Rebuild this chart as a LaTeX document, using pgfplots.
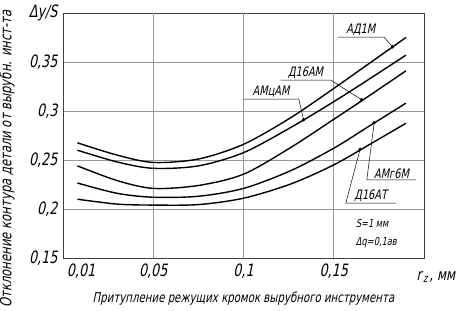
\documentclass[border=0pt]{standalone}
\usepackage{pgfplots}
\pgfplotsset{compat=1.18}
\usepackage{fontspec}
\setmainfont{DejaVu Sans}[FakeSlant=0.2,FakeStretch=0.75]
\pgfplotstableread{
x      a      b      c      d      e
0.008  0.2675 0.260  0.244  0.2265 0.210
0.03   0.255  0.248  0.229  0.216  0.205
0.05   0.2475 0.2415 0.221  0.212  0.204
0.075  0.251  0.244  0.224  0.213  0.2045
0.1    0.266  0.2575 0.2355 0.221  0.211
0.126  0.293  0.283  0.2626 0.239  0.2254
0.15   0.323  0.3095 0.2915 0.262  0.245
0.17   0.349  0.333  0.316  0.285  0.266
0.19   0.375  0.357  0.341  0.308  0.2875
}\data
\begin{document}
\begin{tikzpicture}
\begin{axis}[
  scale only axis, width=361pt, height=245pt,
  xmin=0, xmax=0.2, ymin=0.15, ymax=0.4,
  xtick={0.01,0.05,0.1,0.15}, xticklabels={{0,01},{0,05},{0,1},{0,15}},
  extra x ticks={0.05,0.1,0.15}, extra x tick labels={},
  extra x tick style={xmajorgrids=true},
  ytick={0.15,0.2,0.25,0.3,0.35,0.4},
  yticklabels={{0,15},{0,2},{0,25},{0,3},{0,35},{Δy/S}},
  major tick length=0pt,
  xmajorgrids=false, ymajorgrids=true,
  major grid style={gray!80, line width=0.6pt},
  axis line style={black!75, line width=0.8pt},
  ticklabel style={font=\fontsize{17}{17}\selectfont},
  yticklabel style={xshift=-2pt},
  xticklabel style={yshift=-2pt},
  /pgf/number format/assume math mode=true,
  xlabel={Притупление режущих кромок вырубного инструмента},
  xlabel style={font=\fontsize{13.6}{13.6}\selectfont, yshift=-7pt},
  clip=false,
]
\addplot[black, line width=1.4pt, smooth] table[x=x,y=a]{\data};
\addplot[black, line width=1.4pt, smooth] table[x=x,y=b]{\data};
\addplot[black, line width=1.4pt, smooth] table[x=x,y=c]{\data};
\addplot[black, line width=1.4pt, smooth] table[x=x,y=d]{\data};
\addplot[black, line width=1.4pt, smooth] table[x=x,y=e]{\data};
% dots
\addplot[only marks, mark=*, mark size=1.5pt, black] coordinates {
 (0.1826,0.3655) (0.1654,0.3115) (0.1333,0.291) (0.1724,0.288) (0.1646,0.261)};
% leaders
\draw[black, line width=0.5pt] (axis cs:0.1522,0.3755) -- (axis cs:0.1778,0.3755) -- (axis cs:0.1826,0.3655);
\draw[black, line width=0.5pt] (axis cs:0.1206,0.3316) -- (axis cs:0.1483,0.3316) -- (axis cs:0.1654,0.3115);
\draw[black, line width=0.5pt] (axis cs:0.1,0.3122) -- (axis cs:0.1306,0.3122) -- (axis cs:0.1333,0.291);
\draw[black, line width=0.5pt] (axis cs:0.1956,0.2296) -- (axis cs:0.1683,0.2296) -- (axis cs:0.1724,0.288);
\draw[black, line width=0.5pt] (axis cs:0.1844,0.2061) -- (axis cs:0.1567,0.2061) -- (axis cs:0.1646,0.261);
\begin{scope}[every node/.style={font=\fontsize{13}{13}\selectfont, anchor=south, inner sep=1.5pt}]
\node at (axis cs:0.165,0.3755) {АД1М};
\node at (axis cs:0.1344,0.3316) {Д16АМ};
\node at (axis cs:0.1153,0.3122) {АМцАМ};
\node at (axis cs:0.182,0.2296) {АМг6М};
\node at (axis cs:0.1705,0.2061) {Д16АТ};
\end{scope}
\node[anchor=west, font=\fontsize{11}{11}\selectfont, inner sep=0pt] at (axis cs:0.1622,0.1857) {S=1 мм};
\node[anchor=west, font=\fontsize{11}{11}\selectfont, inner sep=0pt] at (axis cs:0.1622,0.1653) {Δq=0,1ав};
\node[anchor=west, font=\fontsize{16}{16}\selectfont, inner sep=0pt] at ([yshift=-19pt]axis cs:0.1958,0.15) {r\kern1.5pt\textsubscript{z}\kern1.5pt, мм};
\end{axis}
\node[rotate=90, font=\fontsize{15.5}{15.5}\selectfont, inner sep=0pt] at ([xshift=-56pt,yshift=-23.5pt]current axis.west) {Отклонение контура детали от вырубн. инст-та};
\pgfresetboundingbox
\path[use as bounding box] ([xshift=-63pt,yshift=-53pt]current axis.south west) rectangle ([xshift=40pt,yshift=13pt]current axis.north east);
\end{tikzpicture}
\end{document}
